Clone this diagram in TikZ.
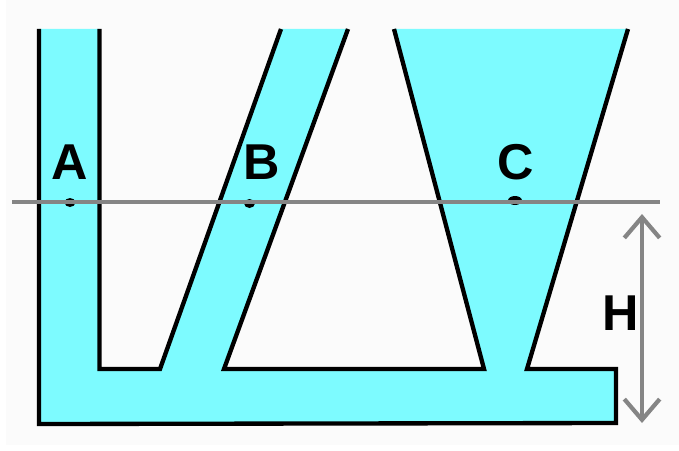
\documentclass[tikz,border=0pt]{standalone}
\usepackage{fontspec}
\setmainfont{Liberation Sans}
\usepackage{xcolor}
\usetikzlibrary{arrows.meta}
\definecolor{liquid}{HTML}{7DFBFF}
\definecolor{paper}{HTML}{FBFBFB}
\definecolor{level}{HTML}{858585}
\tikzset{
  wall/.style={line width=3.7pt,line join=miter,black},
  levelline/.style={line width=3.6pt,level},
  letter/.style={font=\fontsize{43}{43}\selectfont\bfseries,inner sep=0pt,text=black}
}

\begin{document}
\begin{tikzpicture}[x=0.03cm,y=-0.03cm,>={Straight Barb[length=6.2mm,width=10.6mm]}]
  \useasboundingbox (0,0) rectangle (679,450);
  \fill[paper] (6,0) rectangle (679,445);
  \coordinate (LT) at (39,29);
  \coordinate (LB) at (39,424);
  \coordinate (RB) at (616,423);
  \coordinate (RC) at (616,369);
  \coordinate (AT) at (99.5,29);
  \coordinate (AB) at (99.5,369);
  \coordinate (BL0) at (160,369);
  \coordinate (BL1) at (281,29);
  \coordinate (BR0) at (224,369);
  \coordinate (BR1) at (348,29);
  \coordinate (CL0) at (484,369);
  \coordinate (CL1) at (394,29);
  \coordinate (CR0) at (527,369);
  \coordinate (CR1) at (628,29);
  \coordinate (W0) at (12,202);
  \coordinate (W1) at (660,202);
  \coordinate (HT) at (642,214);
  \coordinate (HB) at (642,423);
  \fill[liquid] (LT) -- (LB) -- (RB) -- (RC) -- (CR0) -- (CR1) -- (CL1) -- (CL0)
    -- (BR0) -- (BR1) -- (BL1) -- (BL0) -- (AB) -- (AT) -- cycle;
  \draw[wall] (LT) -- (LB) -- (RB) -- (RC) -- (CR0) -- (CR1);
  \draw[wall] (AT) -- (AB) -- (BL0) -- (BL1);
  \draw[wall] (BR1) -- (BR0) -- (CL0) -- (CL1);
  \fill (70,202.5) ellipse (5.5 and 4.5);
  \fill (249.5,203.5) ellipse (5.5 and 4.5);
  \fill (515,200.5) ellipse (7 and 4.5);
  \draw[levelline] (W0) -- (W1);
  \draw[levelline,<->] (HT) -- (HB);
  \node[letter] (A) at (70,162) {A};
  \node[letter] (B) at (262,162) {B};
  \node[letter] (C) at (515.5,162) {C};
  \node[letter] (H) at (621,313) {H};
\end{tikzpicture}
\end{document}
